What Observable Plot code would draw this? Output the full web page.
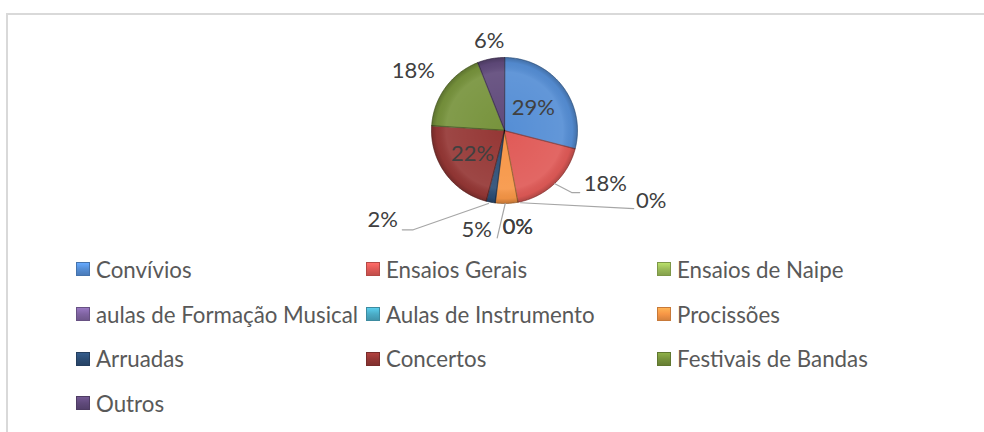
<!DOCTYPE html>
<html><head><meta charset="utf-8">
<script src="https://cdn.jsdelivr.net/npm/d3@7"></script>
<script src="https://cdn.jsdelivr.net/npm/@observablehq/plot@0.6"></script>
<style>
html,body{margin:0;padding:0;background:#fff;}
body{width:984px;height:432px;overflow:hidden;position:relative;font-family:Lato,"Open Sans",sans-serif;}
#frame{position:absolute;left:6px;top:13px;width:1000px;height:500px;border:2px solid #d9d9d9;box-sizing:border-box;}
#chart{position:absolute;left:0;top:0;}
#legend{position:absolute;left:76px;top:247px;display:grid;grid-template-columns:290px 291px 290px;grid-auto-rows:44.7px;}
.item{display:flex;align-items:center;font-size:22.3px;color:#595959;white-space:nowrap;}
.sw{width:14px;height:14px;margin-right:6px;box-sizing:border-box;flex:none;}
</style></head>
<body>
<div id="frame"></div>
<div id="chart"></div>
<div id="legend"></div>
<script>
// ---- data ----
const categories = ["Convívios","Ensaios Gerais","Ensaios de Naipe","aulas de Formação Musical","Aulas de Instrumento","Procissões","Arruadas","Concertos","Festivais de Bandas","Outros"];
const percentages = [29,18,0,0,0,5,2,22,18,6];

// ---- styles / layout ----
const palette = ["#558ed5","#e05a57","#9bbb59","#8064a2","#4bacc6","#f79646","#2c4d75","#953735","#77933c","#604a7b"];
// label placement in pie-radius units; a number = inside radius at mid-angle
const labelPlacement = [0.5,[1.38,-0.73],[2.01,-0.96],[0.18,-1.32],[0.185,-1.32],[-0.38,-1.36],[-1.67,-1.22],0.54,[-1.25,0.81],[-0.21,1.23]];
const leaderLayout = [
  {id:"g", pts:[[0.69,-0.73],[0.92,-0.85],[1.03,-0.85]]},
  {id:"n", pts:[[0.22,-0.99],[1.77,-1.07]]},
  {id:"b", pts:[[0.01,-1.0],[-0.10,-1.47]]},
  {id:"a", pts:[[-0.22,-1.0],[-1.25,-1.36],[-1.40,-1.36]]}
];

const W = 984, H = 250, CX = 504, CY = 130, R = 73;

// ---- geometry from values ----
const total = d3.sum(percentages);
let acc = 0;
const slices = categories.map((key, i) => {
  const a0 = acc / total * 2 * Math.PI;
  acc += percentages[i];
  const a1 = acc / total * 2 * Math.PI;
  return {key, value: percentages[i], a0, a1, mid: (a0 + a1) / 2};
});
const slicePts = [];
for (const s of slices) {
  if (s.value <= 0) continue;
  slicePts.push({key: s.key, x: 0, y: 0});
  const n = Math.max(2, Math.ceil((s.a1 - s.a0) / (Math.PI / 180)));
  for (let k = 0; k <= n; k++) {
    const a = s.a0 + (s.a1 - s.a0) * k / n;
    slicePts.push({key: s.key, x: Math.sin(a), y: Math.cos(a)});
  }
}
const labels = slices.map((s, i) => {
  const p = labelPlacement[i];
  const [x, y] = typeof p === "number" ? [p * Math.sin(s.mid), p * Math.cos(s.mid)] : p;
  return {key: s.key, x, y, text: `${s.value}%`};
});
const leaderPts = leaderLayout.flatMap(l => l.pts.map(([x, y]) => ({id: l.id, x, y})));

const plot = Plot.plot({
  width: W, height: H, margin: 0,
  x: {domain: [-CX / R, (W - CX) / R], axis: null},
  y: {domain: [-(H - CY) / R, CY / R], axis: null},
  color: {domain: categories, range: palette},
  style: {background: "transparent", overflow: "visible"},
  marks: [
    Plot.line(slicePts, {x: "x", y: "y", z: "key", fill: "key", stroke: "key", strokeWidth: 0.5, curve: "linear-closed"}),
    Plot.line(slicePts, {x: "x", y: "y", z: "key", fill: "url(#pieShade)", stroke: "rgba(0,0,0,0.3)", strokeWidth: 0.8, curve: "linear-closed"}),
    Plot.line(leaderPts, {x: "x", y: "y", z: "id", stroke: "#a6a6a6", strokeWidth: 1.2}),
    Plot.text(labels, {x: "x", y: "y", text: "text", fontSize: 22, fill: "#404040", fontFamily: "Lato, 'Open Sans', sans-serif"})
  ]
});
const sx = plot.scale("x"), sy = plot.scale("y");
const pcx = sx.apply(0), pcy = sy.apply(0), pr = sx.apply(1) - sx.apply(0);
const ns = "http://www.w3.org/2000/svg";
const defs = document.createElementNS(ns, "defs");
defs.innerHTML = `<radialGradient id="pieShade" gradientUnits="userSpaceOnUse" cx="${pcx}" cy="${pcy}" r="${pr}">
  <stop offset="0" stop-color="#fff" stop-opacity="0.0"/>
  <stop offset="0.8" stop-color="#fff" stop-opacity="0.08"/>
  <stop offset="0.93" stop-color="#000" stop-opacity="0.04"/>
  <stop offset="1" stop-color="#000" stop-opacity="0.22"/>
</radialGradient>`;
plot.insertBefore(defs, plot.firstChild);
document.getElementById("chart").appendChild(plot);

// ---- legend ----
const legend = document.getElementById("legend");
categories.forEach((c, i) => {
  const it = document.createElement("div");
  it.className = "item";
  const sw = document.createElement("span");
  sw.className = "sw";
  const col = d3.color(palette[i]);
  sw.style.background = `linear-gradient(180deg, ${col.brighter(0.5)} 0%, ${col} 50%, ${col.darker(0.4)} 100%)`;
  sw.style.border = `1px solid ${col.darker(0.6)}`;
  it.appendChild(sw);
  it.appendChild(document.createTextNode(c));
  legend.appendChild(it);
});
</script>
</body></html>
